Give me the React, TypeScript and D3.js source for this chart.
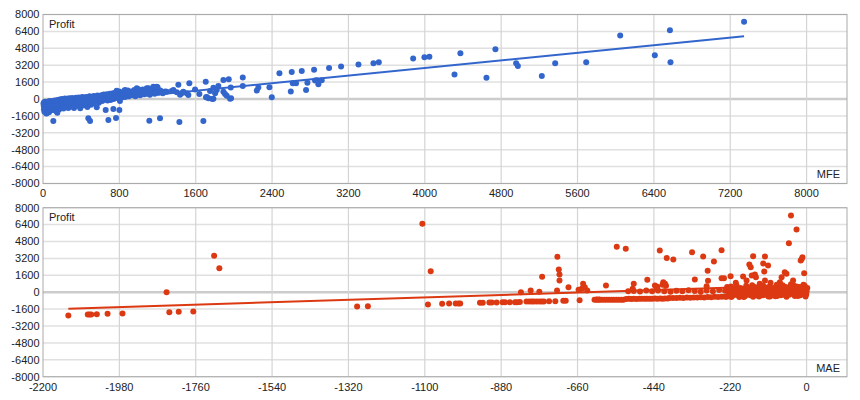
import React from "react";
import * as d3 from "d3";

// ---------- DATA ----------
const yTicks = [-8000, -6400, -4800, -3200, -1600, 0, 1600, 3200, 4800, 6400, 8000];
const mfeTicks = [0, 800, 1600, 2400, 3200, 4000, 4800, 5600, 6400, 7200, 8000];
const maeTicks = [-2200, -1980, -1760, -1540, -1320, -1100, -880, -660, -440, -220, 0];

// MFE vs Profit: scattered trades
const mfeOutliers: [number, number][] = [
  [108, -2090], [39, -1360], [150, -1300], [475, -1830], [493, -2090], [563, -790], [657, -1040], [685, -1990],
  [737, -950], [765, -1800], [800, -1040], [1114, -2060], [1226, -1830], [1429, -2180], [1680, -2090],
  [1418, 1360], [1533, 1490], [1705, 1640], [1890, 1800], [1946, 1870], [2093, 2040], [2477, 2440], [2606, 2560], [2711, 2660],
  [2397, 160], [2372, 1110], [2240, 800], [2256, 1080], [2596, 700], [2617, 1490], [2651, 1490], [2756, 850], [2770, 1550],
  [1960, 30], [1785, 30], [1716, 200], [1733, 65], [1774, 0], [1907, 480], [1925, 300], [1967, 1080], [1970, 65],
  [1750, 760], [1785, 1060], [1820, 850], [1837, 1230], [1803, 540], [1890, 690], [2093, 1230],
  [1638, 475], [1593, 900], [1470, 690], [1506, 540], [1436, 400], [1453, 540], [1401, 635], [1349, 760], [1523, 380], [1708, 160],
  [1174, 1110], [1200, 1110], [1104, 1015], [999, 920], [772, 790], [859, 850], [1296, 690], [1366, 850],
  [982, 1015], [1087, 1015], [1156, 1170], [1191, 1170],
  [2840, 2780], [2850, 1740], [2868, 1770], [2885, 1395], [2920, 1770], [2997, 2940], [3123, 3070], [3305, 3260],
  [3462, 3390], [3518, 3480], [3878, 3830], [3996, 3960], [4048, 3990], [4311, 2310], [4373, 4340], [4646, 2020],
  [4740, 4720], [4957, 3390], [4975, 3130], [5226, 2180], [5366, 3390], [5691, 3480], [6047, 6010], [6410, 4150],
  [6568, 6520], [6574, 3480], [7345, 7310],
];

// MFE vs Profit: dense cluster of small trades
const mfeCluster: [number, number][] = [
  [5, -420], [8, -650], [10, -980], [12, -300], [15, -1200], [18, -520], [20, -760], [22, -250], [25, -1050], [28, -400],
  [30, -880], [33, -600], [35, -1380], [38, -320], [40, -700], [43, -1150], [45, -480], [48, -900], [50, -250], [53, -1000],
  [55, -620], [58, -380], [60, -820], [63, -1250], [65, -520], [68, -200], [70, -720], [73, -950], [75, -420], [78, -1100],
  [80, -600], [83, -300], [85, -850], [88, -500], [90, -1000], [93, -350], [95, -700], [98, -180],
  [102, -560], [105, -880], [108, -300], [112, -1050], [115, -450], [118, -700], [122, -150], [125, -950], [128, -600],
  [132, -350], [135, -800], [138, -1150], [142, -250], [145, -500], [148, -720], [152, -100], [155, -900], [158, -400],
  [162, -620], [165, -200], [168, -1000], [172, -480], [175, -50], [178, -750], [182, -320], [185, -560], [188, -150],
  [192, -850], [195, -420], [198, 0], [205, -650], [210, -280], [215, -900], [220, -100], [225, -500], [230, 50],
  [235, -750], [240, -350], [245, -150], [250, -600], [255, 20], [260, -400], [265, -850], [270, -200], [275, 80],
  [280, -550], [285, -300], [290, -50], [295, -700],
  [305, 100], [310, -400], [318, -200], [325, -850], [330, 0], [338, -550], [345, 120], [352, -300], [360, -100],
  [368, -650], [375, 150], [382, -250], [390, -880], [398, 50], [405, -450], [412, 180], [420, -150], [428, -600],
  [435, 80], [442, -350], [450, 200], [458, -50], [465, -750], [472, 120], [480, -300], [488, 250], [495, -100],
  [502, -550], [510, 180], [518, 0], [525, -400], [532, 280], [540, 60], [548, -250], [555, 200], [562, -150],
  [570, 320], [578, 100], [585, -350], [592, 250],
  [605, 30], [612, 350], [620, -200], [628, 180], [636, 420], [645, -50], [652, 260], [660, 80], [668, 450],
  [676, -150], [684, 300], [692, 120], [700, 500], [708, -100], [716, 350], [724, 200], [732, 550], [740, 0],
  [748, 400], [756, 250], [764, 650], [772, 100], [780, 450], [790, 300], [798, 700], [806, -200], [815, 500],
  [824, 150], [832, 600], [840, 350], [850, 750], [860, 200], [870, 550], [880, 400], [890, 800], [898, 250],
  [910, 600], [920, 350], [932, 700], [944, 450], [956, 850], [968, 250], [980, 600], [992, 500], [1005, 750],
  [1018, 350], [1030, 650], [1045, 900], [1060, 450], [1075, 700], [1090, 550], [1105, 850], [1120, 400],
  [1135, 650], [1150, 750], [1170, 500], [1190, 700], [1210, 600], [1230, 800], [1255, 550], [1280, 700],
];

// MAE vs Profit: scattered trades
const maeOutliers: [number, number][] = [
  [-2127, -2210], [-2071, -2110], [-2066, -2110], [-2061, -2110], [-2045, -2080], [-2014, -2050], [-1971, -2020],
  [-1844, 0], [-1836, -1890], [-1809, -1860], [-1767, -1830], [-1707, 3450], [-1692, 2270],
  [-1295, -1350], [-1264, -1320], [-1107, 6480], [-1083, 1990], [-1091, -1170], [-1050, -1100], [-1030, -1070],
  [-1011, -1070], [-1003, -1070], [-998, -1070], [-941, -1010], [-933, -1010], [-914, -980], [-907, -980], [-893, -980],
  [-876, -950], [-869, -950], [-855, -950], [-840, -940], [-834, -940], [-826, -930], [-823, 0], [-807, -885],
  [-799, -885], [-792, -885], [-786, -885], [-795, 160], [-778, -880], [-770, -880], [-763, -870], [-757, -870],
  [-770, 40], [-762, 1460], [-742, -850], [-724, -850], [-719, 160], [-718, 3350], [-714, 2150], [-712, 1680],
  [-712, 1110], [-701, -820], [-694, -820], [-686, 470], [-657, 230], [-654, -760], [-648, 320], [-644, 800],
  [-639, 475], [-632, 160], [-605, -700], [-598, -700],
  [-547, 4300], [-521, 4110], [-578, 635], [-514, 95], [-498, 795], [-501, 320], [-459, 1175], [-437, 635],
  [-432, 320], [-423, 3950], [-403, 3240], [-384, 3100], [-413, 950], [-408, 795], [-430, 520], [-415, 700], [-405, 600],
  [-330, 3790], [-298, 3380], [-267, 2910], [-245, 3980], [-285, 2030], [-284, 1080], [-322, 1200], [-288, 570],
  [-245, 1330], [-238, 1330], [-219, 1515], [-204, 890], [-183, 1490], [-173, 1110], [-165, 2620], [-161, 2370],
  [-154, 3410], [-158, 1580], [-149, 1680], [-146, 1420], [-125, 2720], [-120, 3380], [-111, 2530], [-122, 1960],
  [-120, 1110], [-104, 890], [-72, 1420], [-63, 1890], [-58, 1740], [-51, 4640], [-45, 7260], [-29, 5940],
  [-17, 3000], [-12, 3310], [-14, 3150], [-7, 1800], [-77, 950], [-86, 700], [-39, 1110], [-135, 800],
];

// MAE vs Profit: rows of stopped trades and the dense block near zero
const maeCluster: [number, number][] = [
  [-611, -720], [-604, -715], [-597, -725], [-590, -720], [-583, -710], [-576, -720], [-569, -715], [-562, -725],
  [-555, -715], [-548, -710], [-541, -720], [-534, -705], [-528, -710],
  [-520, -640], [-512, -630], [-505, -640], [-498, -625], [-490, -635], [-482, -620], [-475, -630], [-467, -615],
  [-460, -625], [-452, -610], [-445, -620], [-437, -605], [-430, -615], [-422, -600], [-415, -610], [-408, -595], [-400, -600],
  [-498, 120], [-480, 60], [-462, 150], [-445, 90], [-428, 170], [-410, 100], [-392, 40], [-375, 140], [-358, 80],
  [-340, 180], [-322, 110], [-305, 50], [-288, 160], [-270, 90], [-252, 200], [-235, 130],
  [-395, -560], [-385, -540], [-375, -550], [-365, -530], [-355, -540], [-345, -510], [-335, -520], [-325, -500],
  [-315, -510], [-305, -480], [-295, -490], [-285, -460], [-275, -470], [-265, -440], [-255, -450], [-245, -420], [-235, -430],
  [-230, -420], [-226, 300], [-222, -100], [-218, 550], [-214, -350], [-210, 150], [-206, -250], [-202, 650], [-198, 0],
  [-194, -450], [-190, 400], [-186, -150], [-182, 250], [-178, -380], [-174, 600], [-170, -50], [-166, 350], [-162, -300],
  [-158, 100], [-154, -420], [-150, 500], [-146, -200], [-142, 200], [-138, -350], [-134, 700], [-130, 50], [-126, -280],
  [-122, 400], [-118, -120], [-114, 250], [-110, -400], [-106, 550], [-102, 0], [-98, -250], [-94, 350], [-90, -380],
  [-86, 150], [-82, -100], [-78, 600], [-74, -300], [-70, 300], [-66, -180], [-62, 500], [-58, -420], [-54, 100],
  [-50, -250], [-46, 400], [-42, -100], [-38, 650], [-34, -350], [-30, 200], [-26, -50], [-22, 500], [-18, -280],
  [-14, 300], [-10, -150], [-6, 600], [-3, -400], [0, 100], [2, 400], [-1, -200], [-5, 250], [-9, 700], [-13, -50],
  [-17, 450], [-21, 150], [-25, -350], [-29, 550], [-33, 50], [-37, -200], [-41, 300], [-45, 750], [-49, -100],
  [-53, 200], [-57, 450], [-61, -300], [-65, 100], [-69, 650], [-73, 350], [-77, -150], [-81, 250], [-85, -350],
  [-89, 500], [-93, 50], [-97, -200], [-101, 300], [-105, -400], [-109, 150], [-113, 450], [-117, -250], [-121, 50],
  [-125, 600], [-129, -150], [-133, 300], [-137, -400], [-141, 450], [-145, 0], [-149, -300], [-153, 250], [-157, 650],
  [-161, -150], [-165, 100], [-169, 400], [-173, -250], [-177, 50], [-181, -450], [-185, 300], [-189, -100], [-193, 200],
  [-197, -300], [-201, 100], [-205, 400], [-209, -200], [-213, 250], [-217, -450], [-221, 100], [-225, -300], [-229, 500],
];

const FONT = "'Liberation Sans', Arial, sans-serif";

function fit(points: [number, number][]) {
  const mx = d3.mean(points, (p) => p[0]) as number;
  const my = d3.mean(points, (p) => p[1]) as number;
  let sxy = 0, sxx = 0;
  for (const [x, y] of points) { sxy += (x - mx) * (y - my); sxx += (x - mx) * (x - mx); }
  const slope = sxy / sxx;
  const icpt = my - slope * mx;
  const [x0, x1] = d3.extent(points, (p) => p[0]) as [number, number];
  return [[x0, icpt + slope * x0], [x1, icpt + slope * x1]] as [number, number][];
}

type PanelProps = {
  points: [number, number][];
  xDomain: [number, number];
  xTicks: number[];
  top: number;
  bottom: number;
  color: string;
  xLabel: string;
};

const LEFT = 43;
const RIGHT = 847;
const XEND = 806.6;

function Panel({ points, xDomain, xTicks, top, bottom, color, xLabel }: PanelProps) {
  const x = d3.scaleLinear().domain(xDomain).range([LEFT, XEND]);
  const y = d3.scaleLinear().domain([-8000, 8000]).range([bottom, top]);
  const trend = fit(points);
  const line = d3.line<[number, number]>().x((d) => x(d[0])).y((d) => y(d[1]));
  return (
    <g>
      {yTicks.map((t) => (
        <line key={"h" + t} x1={LEFT} x2={RIGHT} y1={y(t)} y2={y(t)}
          stroke={t === 0 ? "#cccccc" : "#e0e0e0"} strokeWidth={t === 0 ? 2.5 : 1.5} />
      ))}
      {xTicks.slice(1).map((t) => (
        <line key={"v" + t} x1={x(t)} x2={x(t)} y1={top} y2={bottom} stroke="#d4d4d4" strokeWidth={1.2} />
      ))}
      <rect x={LEFT} y={top} width={RIGHT - LEFT} height={bottom - top} fill="none" stroke="#aaaaaa" strokeWidth={1} />
      {yTicks.map((t) => (
        <text key={"yl" + t} x={39.5} y={y(t)} dy="0.35em" textAnchor="end" fontSize={11} fontFamily={FONT} fill="#222">{t}</text>
      ))}
      {xTicks.map((t) => (
        <text key={"xl" + t} x={x(t)} y={bottom + 10} dy="0.35em" textAnchor="middle" fontSize={11} fontFamily={FONT} fill="#222">{t}</text>
      ))}
      <text x={49} y={top + 9.5} dy="0.35em" fontSize={11} fontFamily={FONT} fill="#222">Profit</text>
      <text x={840} y={bottom - 9} dy="0.35em" textAnchor="end" fontSize={11} fontFamily={FONT} fill="#222">{xLabel}</text>
      {points.map((p, i) => (
        <circle key={i} cx={x(p[0])} cy={y(p[1])} r={3} fill={color} />
      ))}
      <path d={line(trend) || ""} stroke={color} strokeWidth={2} fill="none" />
    </g>
  );
}

export default function App() {
  const mfeData = [...mfeCluster, ...mfeOutliers];
  const maeData = [...maeCluster, ...maeOutliers];
  return (
    <svg width={860} height={400} style={{ position: "fixed", left: 0, top: 0, background: "#fff" }}>
      <rect width={860} height={400} fill="#fff" />
      <Panel points={mfeData} xDomain={[0, 8000]} xTicks={mfeTicks} top={14.5} bottom={183.5} color="#3366cc" xLabel="MFE" />
      <Panel points={maeData} xDomain={[-2200, 0]} xTicks={maeTicks} top={207.7} bottom={376.7} color="#dc3912" xLabel="MAE" />
    </svg>
  );
}
